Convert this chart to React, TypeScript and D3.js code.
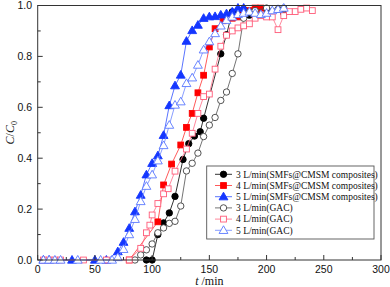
import React from 'react';
import * as d3 from 'd3';

// breakthrough curves: time (min) and C/C0
const t3SMF = [95, 100, 105, 110, 115, 120, 127, 132, 137, 142, 145, 160, 165, 170, 175, 180, 185, 190, 200, 215];
const c3SMF = [0, 0, 0.1, 0.146, 0.185, 0.25, 0.395, 0.457, 0.487, 0.504, 0.557, 0.81, 0.885, 0.975, 0.98, 0.985, 0.962, 0.97, 0.985, 0.97];

const t4SMF = [80, 105, 110, 117, 125, 130, 135, 140, 145, 150, 155, 162, 170, 175, 180, 185, 190, 195];
const c4SMF = [0, 0.15, 0.295, 0.377, 0.452, 0.521, 0.576, 0.657, 0.726, 0.837, 0.909, 0.94, 0.95, 0.955, 0.97, 0.98, 0.99, 0.99];

const t5SMF = [5, 10, 30, 50, 60, 70, 75, 80, 85, 90, 95, 100, 105, 110, 115, 120, 125, 130, 135, 140, 145, 150, 155, 160, 165, 170, 175, 180];
const c5SMF = [0, 0, 0, 0, 0, 0.033, 0.07, 0.125, 0.19, 0.255, 0.335, 0.38, 0.41, 0.49, 0.607, 0.685, 0.727, 0.86, 0.902, 0.923, 0.95, 0.956, 0.957, 0.963, 0.968, 0.975, 0.99, 0.99];

const t3GAC = [85, 90, 95, 100, 105, 110, 115, 120, 125, 130, 135, 140, 145, 150, 155, 160, 165, 170, 175, 180, 185, 190, 200, 210, 215];
const c3GAC = [0, 0.02, 0.04, 0.063, 0.107, 0.126, 0.144, 0.152, 0.212, 0.35, 0.38, 0.42, 0.485, 0.53, 0.56, 0.627, 0.66, 0.733, 0.81, 0.95, 0.975, 0.98, 0.99, 0.985, 0.99];

const t4GAC = [5, 10, 15, 20, 40, 60, 80, 90, 95, 98, 100, 105, 110, 114, 120, 130, 135, 140, 145, 150, 155, 160, 165, 170, 175, 180, 185, 190, 195, 200, 205, 210, 215, 220, 225, 230, 235, 240];
const c4GAC = [0, 0, 0, 0, 0, 0, 0, 0.046, 0.107, 0.137, 0.177, 0.222, 0.26, 0.28, 0.349, 0.436, 0.498, 0.576, 0.642, 0.652, 0.75, 0.84, 0.883, 0.9, 0.912, 0.92, 0.928, 0.95, 0.96, 0.955, 0.955, 0.905, 0.96, 0.976, 0.976, 0.985, 0.99, 0.98];

const t5GAC = [5, 10, 15, 20, 35, 55, 65, 70, 75, 80, 85, 90, 95, 100, 105, 110, 115, 120, 125, 130, 135, 140, 145, 150, 155, 160, 165, 170, 175, 180, 185, 190, 195, 200, 205, 210, 215];
const c5GAC = [0, 0, 0, 0, 0, 0, 0, 0.01, 0.042, 0.1, 0.16, 0.23, 0.29, 0.335, 0.39, 0.45, 0.53, 0.609, 0.622, 0.694, 0.716, 0.766, 0.826, 0.858, 0.89, 0.92, 0.942, 0.955, 0.965, 0.97, 0.975, 0.97, 0.965, 0.97, 0.98, 0.985, 0.99];

const xTicks = [0, 50, 100, 150, 200, 250, 300];
const yTicks = [0, 0.2, 0.4, 0.6, 0.8, 1.0];

const series = [
  { name: '3 L/min(SMFs@CMSM composites)', t: t3SMF, c: c3SMF, shape: 'circle', color: '#000000', line: '#000000', filled: true },
  { name: '4 L/min(SMFs@CMSM composites)', t: t4SMF, c: c4SMF, shape: 'square', color: '#ff0000', line: '#ff3030', filled: true },
  { name: '5 L/min(SMFs@CMSM composites)', t: t5SMF, c: c5SMF, shape: 'triangle', color: '#1436ff', line: '#3050ff', filled: true },
  { name: '3 L/min(GAC)', t: t3GAC, c: c3GAC, shape: 'circle', color: '#404040', line: '#505050', filled: false },
  { name: '4 L/min(GAC)', t: t4GAC, c: c4GAC, shape: 'square', color: '#ff5a78', line: '#ff6a84', filled: false },
  { name: '5 L/min(GAC)', t: t5GAC, c: c5GAC, shape: 'triangle', color: '#5a78ff', line: '#6a84ff', filled: false },
];

function Marker({ shape, x, y, color, filled }: any) {
  const fill = filled ? color : '#ffffff';
  if (shape === 'circle') return <circle cx={x} cy={y} r={3.2} fill={fill} stroke={color} strokeWidth={0.9} />;
  if (shape === 'square') return <rect x={x - 2.9} y={y - 2.9} width={5.8} height={5.8} fill={fill} stroke={color} strokeWidth={0.9} />;
  const tri = d3.symbol(d3.symbolTriangle, 34)();
  return <path d={tri!} transform={`translate(${x},${y + 0.6})`} fill={fill} stroke={color} strokeWidth={0.9} />;
}

export default function App() {
  const W = 390;
  const H = 287;
  const left = 37.7, right = 381, top = 5.5, bottom = 260;
  const x = d3.scaleLinear().domain([0, 300]).range([left, right]);
  const y = d3.scaleLinear().domain([0, 1]).range([bottom, top]);
  const line = d3.line<[number, number]>().x(d => x(d[0])).y(d => y(d[1]));
  const xMinor = d3.range(25, 300, 50);
  const yMinor = d3.range(0.1, 1, 0.2);

  const lgX = 206.7, lgY = 166, lgW = 167.3, lgH = 73;
  const rowY = (i: number) => 174.3 + i * 11.2;

  return (
    <svg width={W} height={H} style={{ position: 'absolute', left: 0, top: 0, background: '#fff' }}>
      {series.map(s => (
        <g key={s.name}>
          <path d={line(s.t.map((t, i) => [t, s.c[i]] as [number, number]))!} fill="none" stroke={s.line} strokeWidth={0.8} />
          {s.t.map((t, i) => (
            <Marker key={i} shape={s.shape} x={x(t)} y={y(s.c[i])} color={s.color} filled={s.filled} />
          ))}
        </g>
      ))}

      <rect x={left} y={top} width={right - left} height={bottom - top} fill="none" stroke="#333" strokeWidth={1} />

      {xTicks.map(v => (
        <g key={'xt' + v}>
          <line x1={x(v)} x2={x(v)} y1={bottom} y2={bottom - 5} stroke="#333" />
          <text x={x(v)} y={273} textAnchor="middle" fontFamily="Arial, 'Liberation Sans', sans-serif" fontSize={10.5} fill="#111">{v}</text>
        </g>
      ))}
      {xMinor.map(v => (
        <line key={'xm' + v} x1={x(v)} x2={x(v)} y1={bottom} y2={bottom - 3} stroke="#333" />
      ))}
      {yTicks.map(v => (
        <g key={'yt' + v}>
          <line x1={left} x2={left + 5} y1={y(v)} y2={y(v)} stroke="#333" />
          <text x={32} y={y(v) + 3.7} textAnchor="end" fontFamily="Arial, 'Liberation Sans', sans-serif" fontSize={10.5} fill="#111">{v.toFixed(1)}</text>
        </g>
      ))}
      {yMinor.map(v => (
        <line key={'ym' + v} x1={left} x2={left + 3} y1={y(v)} y2={y(v)} stroke="#333" />
      ))}

      <text x={(left + right) / 2} y={285} textAnchor="middle" fontFamily="'Liberation Serif', 'Times New Roman', serif" fontSize={12} fill="#111">
        <tspan fontStyle="italic">t</tspan> /min
      </text>
      <text transform={`translate(14,${(top + bottom) / 2}) rotate(-90)`} textAnchor="middle" fontFamily="'Liberation Serif', 'Times New Roman', serif" fontSize={12} fill="#111">
        <tspan fontStyle="italic">C</tspan>/<tspan fontStyle="italic">C</tspan>
        <tspan fontSize={8} dy={3}>0</tspan>
      </text>

      <rect x={lgX} y={lgY} width={lgW} height={lgH} fill="#fff" stroke="#555" strokeWidth={0.9} />
      {series.map((s, i) => (
        <g key={'lg' + i}>
          <line x1={215} x2={232} y1={rowY(i)} y2={rowY(i)} stroke={s.line} strokeWidth={0.8} />
          <Marker shape={s.shape} x={223.5} y={rowY(i)} color={s.color} filled={s.filled} />
          <text x={236} y={rowY(i) + 3.2} fontFamily="'Liberation Serif', 'Times New Roman', serif" fontSize={9.5} fill="#111">{s.name}</text>
        </g>
      ))}
    </svg>
  );
}
